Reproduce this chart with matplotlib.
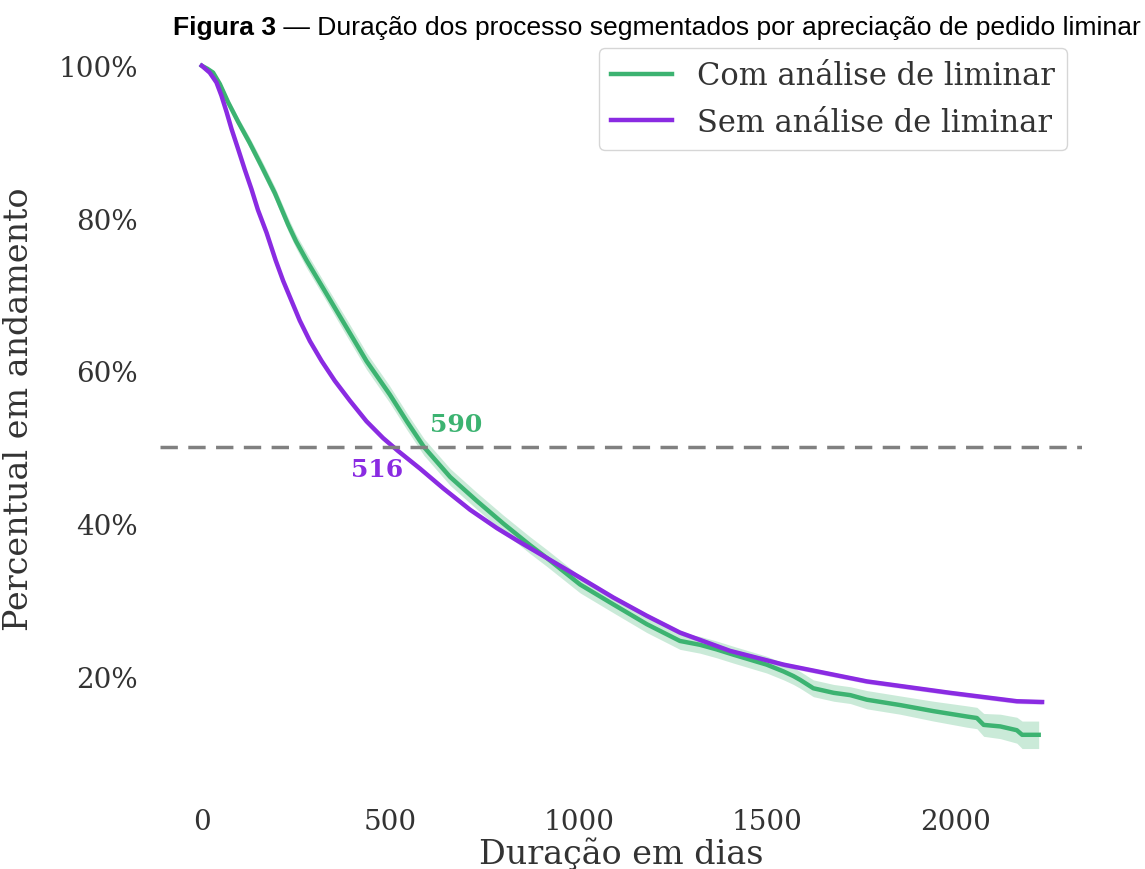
import matplotlib
matplotlib.use("Agg")
import matplotlib.pyplot as plt
from matplotlib.ticker import PercentFormatter

# ---------------- DATA ----------------
series_labels = ["Com análise de liminar", "Sem análise de liminar"]
medians = [590, 516]

# Com análise de liminar (green), with confidence band half-width
com_days = [0, 15, 30, 48, 70, 97, 127, 159, 194, 229,
            250, 278, 331, 384, 437, 499, 544, 590, 659, 729,
            800, 870, 915, 1004, 1092, 1181, 1269, 1322, 1366, 1411,
            1499, 1544, 1570, 1588, 1623, 1677, 1721, 1765, 1853, 1942,
            2030, 2057, 2075, 2119, 2163, 2177, 2221]
com_surv = [1.000, 0.996, 0.991, 0.976, 0.952, 0.926, 0.899, 0.868, 0.833, 0.792,
            0.770, 0.745, 0.701, 0.657, 0.613, 0.569, 0.534, 0.500, 0.461, 0.430,
            0.400, 0.372, 0.355, 0.320, 0.294, 0.268, 0.246, 0.241, 0.235, 0.228,
            0.215, 0.206, 0.200, 0.195, 0.184, 0.178, 0.175, 0.169, 0.162, 0.154,
            0.147, 0.145, 0.136, 0.134, 0.129, 0.123, 0.123]
com_ci = [0.000, 0.002, 0.003, 0.004, 0.005, 0.006, 0.007, 0.008, 0.008, 0.009,
          0.009, 0.010, 0.010, 0.011, 0.011, 0.011, 0.011, 0.011, 0.011, 0.011,
          0.011, 0.011, 0.011, 0.011, 0.011, 0.011, 0.011, 0.011, 0.011, 0.011,
          0.011, 0.011, 0.011, 0.011, 0.011, 0.011, 0.011, 0.012, 0.012, 0.013,
          0.014, 0.014, 0.015, 0.016, 0.017, 0.018, 0.018]

# Sem análise de liminar (purple)
sem_days = [0, 21, 39, 52, 66, 79, 97, 114, 132, 149,
            172, 196, 216, 238, 260, 287, 318, 353, 393, 437,
            481, 521, 579, 641, 712, 783, 836, 915, 1004, 1092,
            1181, 1269, 1402, 1544, 1765, 1986, 2163, 2230]
sem_surv = [1.000, 0.991, 0.978, 0.961, 0.939, 0.917, 0.890, 0.864, 0.838, 0.811,
            0.781, 0.745, 0.718, 0.692, 0.666, 0.639, 0.613, 0.587, 0.561, 0.534,
            0.512, 0.495, 0.472, 0.446, 0.418, 0.394, 0.378, 0.355, 0.329, 0.303,
            0.279, 0.257, 0.233, 0.215, 0.193, 0.178, 0.167, 0.166]
sem_ci = 0.003

green = "#3cb371"
purple = "#8a2be2"
text_color = "#333333"

# ---------------- PLOT ----------------
plt.rcParams["font.family"] = ["DejaVu Serif"]

fig = plt.figure(figsize=(11.45, 8.7), dpi=100)
ax = fig.add_axes([0.1397, 0.0990, 0.8053, 0.862])

com_lo = [s - c for s, c in zip(com_surv, com_ci)]
com_hi = [s + c for s, c in zip(com_surv, com_ci)]
ax.fill_between(com_days, com_lo, com_hi, color=green, alpha=0.27, lw=0)
ax.plot(com_days, com_surv, color=green, lw=3.2, label=series_labels[0],
        solid_joinstyle="round")

sem_lo = [s - sem_ci for s in sem_surv]
sem_hi = [s + sem_ci for s in sem_surv]
ax.fill_between(sem_days, sem_lo, sem_hi, color=purple, alpha=0.25, lw=0)
ax.plot(sem_days, sem_surv, color=purple, lw=3.2, label=series_labels[1],
        solid_joinstyle="round")

ax.axhline(0.5, color="gray", ls="--", lw=2.5, dashes=(5, 3))

ax.text(medians[0] + 15, 0.515, str(medians[0]), color=green, fontsize=18,
        fontweight="bold", ha="left", va="bottom")
ax.text(medians[1] + 18, 0.487, str(medians[1]), color=purple, fontsize=18,
        fontweight="bold", ha="right", va="top")

ax.set_xlim(-111, 2336)
ax.set_ylim(0.06, 1.043)
ax.set_xticks([0, 500, 1000, 1500, 2000])
ax.set_yticks([0.2, 0.4, 0.6, 0.8, 1.0])
ax.yaxis.set_major_formatter(PercentFormatter(1.0, decimals=0))
ax.tick_params(axis="x", length=0, pad=18, labelsize=20, colors=text_color)
ax.tick_params(axis="y", length=0, pad=16, labelsize=20, colors=text_color)
for sp in ax.spines.values():
    sp.set_visible(False)

ax.set_xlabel("Duração em dias", fontsize=24, color=text_color, labelpad=2)
ax.set_ylabel("Percentual em andamento", fontsize=24, color=text_color, labelpad=17)

leg = ax.legend(loc="upper right", fontsize=22, frameon=True, fancybox=True)
leg.get_frame().set_edgecolor("#cccccc")
for t in leg.get_texts():
    t.set_color(text_color)

# caption above the chart, "Figura 3" in bold
cap_family = ["Liberation Sans Narrow", "Liberation Sans", "DejaVu Sans"]
cap_rest = " — Duração dos processo segmentados por apreciação de pedido liminar"
fs = 17
t2 = fig.text(0.9965, 0.968, cap_rest, ha="right", va="center", fontsize=fs,
              family=cap_family, color="black")
t1 = fig.text(0.5, 0.968, "Figura 3", ha="right", va="center", fontsize=fs,
              family=cap_family, fontweight="bold", color="black")
renderer = fig.canvas.get_renderer()
w = t1.get_window_extent(renderer).width + t2.get_window_extent(renderer).width
fs = fs * 970 / w
t1.set_fontsize(fs)
t2.set_fontsize(fs)
left = t2.get_window_extent(renderer).x0
t1.set_x(left / fig.bbox.width)

fig.savefig("out.png", dpi=100, facecolor="white")
